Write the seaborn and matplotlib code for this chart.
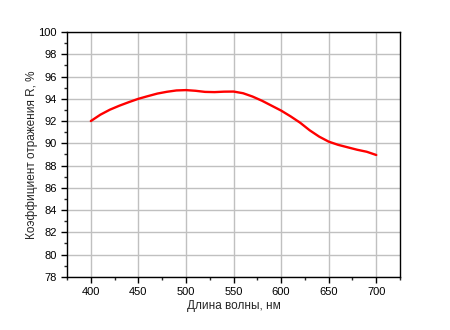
import matplotlib
matplotlib.use("Agg")
import matplotlib.pyplot as plt
import seaborn as sns
import pandas as pd
from matplotlib.ticker import MultipleLocator

wavelength = [400, 410, 420, 430, 440, 450, 460, 470, 480, 490, 500, 510, 520, 530, 540,
              550, 560, 570, 580, 590, 600, 610, 620, 630, 640, 650, 660, 670, 680, 690, 700]
reflectance = [92.0, 92.57, 93.02, 93.38, 93.7, 94.0, 94.24, 94.47, 94.63, 94.75, 94.78, 94.72,
               94.62, 94.6, 94.64, 94.65, 94.5, 94.2, 93.82, 93.38, 92.94, 92.42, 91.85, 91.17,
               90.6, 90.15, 89.86, 89.64, 89.42, 89.24, 88.95]

df = pd.DataFrame({"wl": wavelength, "R": reflectance})

sns.set_style("white")
plt.rcParams['font.family'] = ['Liberation Sans', 'DejaVu Sans']

fig = plt.figure(figsize=(4.5, 3.3), dpi=100)
ax = fig.add_axes([0.149, 0.161, 0.74, 0.742])

sns.lineplot(data=df, x="wl", y="R", ax=ax, color="#ff0000", linewidth=1.7, zorder=3)

ax.set_xlim(375, 725)
ax.set_ylim(78, 100)
ax.xaxis.set_major_locator(MultipleLocator(50))
ax.xaxis.set_minor_locator(MultipleLocator(25))
ax.yaxis.set_major_locator(MultipleLocator(2))
ax.yaxis.set_minor_locator(MultipleLocator(1))
ax.grid(True, which="major", color="#c0c0c0", linewidth=1.0, zorder=0)
ax.set_axisbelow(True)
for s in ax.spines.values():
    s.set_color("black")
    s.set_linewidth(1.0)
ax.tick_params(which="major", direction="out", length=4, width=1, colors="black",
               labelsize=8, bottom=True, left=True)
ax.tick_params(which="minor", direction="out", length=2.5, width=1, bottom=True, left=True)
ax.set_xlabel("Длина волны, нм", fontsize=8.5, labelpad=2)
ax.set_ylabel("Коэффициент отражения R, %", fontsize=8.5, labelpad=0)

fig.savefig("out.png", dpi=100)
